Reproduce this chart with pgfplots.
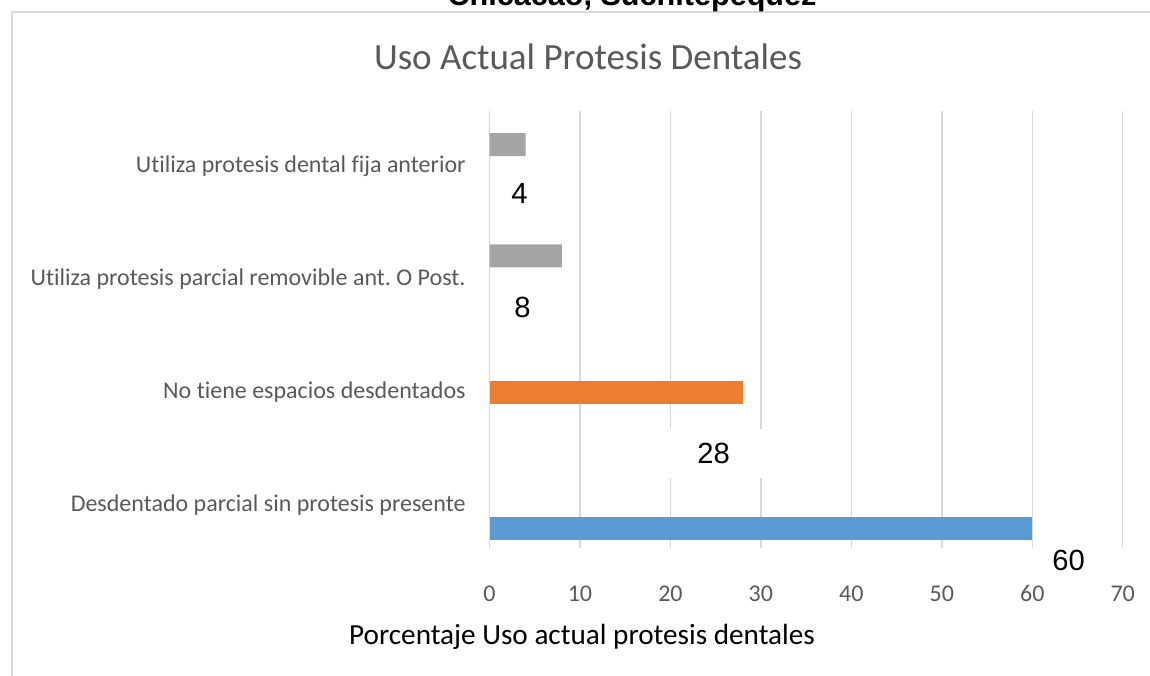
\documentclass[border=0pt]{standalone}
\usepackage{pgfplots}
\pgfplotsset{compat=1.18}
\usepackage{fontspec}
\setmainfont{Carlito}[RawFeature={-liga;-clig}]
\newfontfamily\arialfont{Liberation Sans}
\frenchspacing
\definecolor{cblue}{HTML}{5B9BD5}
\definecolor{corange}{HTML}{ED7D31}
\definecolor{cgray}{HTML}{A5A5A5}
\definecolor{gridgray}{HTML}{D9D9D9}
\definecolor{textgray}{HTML}{595959}
\begin{document}
\begin{tikzpicture}
\draw[color=gridgray, line width=0.75pt] (6pt,-20pt) -- (6pt,331.5pt) -- (600pt,331.5pt);
\node[font=\arialfont\bfseries\fontsize{15.3}{17}\selectfont, anchor=base] at (316pt,334.5pt) {Chicacao, Suchitepequez};
\node[font=\fontsize{18.5}{21}\selectfont, text=textgray] at (294pt,309pt) {Uso Actual Protesis Dentales};
\node[font=\fontsize{14.6}{17}\selectfont, text=black] at (291pt,19pt) {Porcentaje Uso actual protesis dentales};
\begin{axis}[
  at={(244.75pt,63.5pt)}, anchor=south west,
  scale only axis, width=316.6pt, height=218.5pt,
  xmin=0, xmax=70, ymin=-0.3805, ymax=3.487,
  xtick={0,10,...,70}, ytick={0,1,2,3},
  yticklabels={Desdentado parcial sin protesis presente, No tiene espacios desdentados, Utiliza protesis parcial removible ant. O Post., Utiliza protesis dental fija anterior},
  axis line style={draw=none}, major tick length=0pt,
  xmajorgrids, grid style={color=gridgray, line width=0.75pt},
  clip=false,
  /pgf/number format/assume math mode=true,
  xticklabel style={font=\fontsize{12}{14}\selectfont, text=textgray, anchor=base, yshift=-26.5pt, inner sep=0pt},
  yticklabel style={font=\fontsize{12}{14}\selectfont, text=textgray, anchor=east, xshift=-11.75pt, inner sep=0pt},
]
\addplot[xbar, bar width=0.2035, bar shift=0pt, fill=cblue, draw=none] coordinates {(60,-0.21)};
\addplot[xbar, bar width=0.2035, bar shift=0pt, fill=corange, draw=none] coordinates {(28,1.0)};
\addplot[xbar, bar width=0.2035, bar shift=0pt, fill=cgray, draw=none] coordinates {(8,2.204) (4,3.19)};
\node[font=\arialfont\fontsize{14.6}{17}\selectfont, fill=white, inner sep=0pt, minimum width=48pt, minimum height=24.5pt] at (axis cs:24.77,0.46) {28};
\node[font=\arialfont\fontsize{14.6}{17}\selectfont, inner sep=0pt] at (axis cs:3.32,2.76) {4};
\node[font=\arialfont\fontsize{14.6}{17}\selectfont, inner sep=0pt] at (axis cs:3.65,1.752) {8};
\node[font=\arialfont\fontsize{14.6}{17}\selectfont, inner sep=0pt] at (axis cs:64.03,-0.487) {60};
\end{axis}
\pgfresetboundingbox
\path[use as bounding box] (0pt,0pt) rectangle (575pt,337.5pt);
\end{tikzpicture}
\end{document}
